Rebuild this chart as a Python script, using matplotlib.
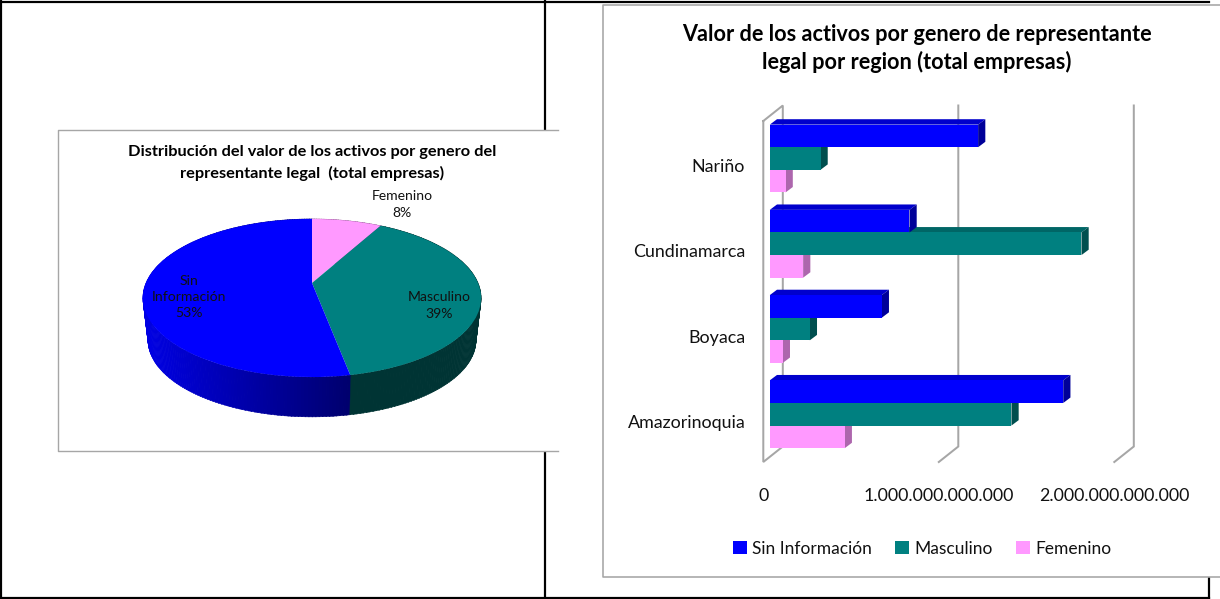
import numpy as np
import matplotlib
matplotlib.use("Agg")
import matplotlib.pyplot as plt
from matplotlib.transforms import Transform, ScaledTranslation
from matplotlib.patches import Rectangle, Polygon

# ---- data ----
pie_labels = ["Femenino", "Masculino", "Sin Información"]
pie_values = [8, 39, 53]
pie_colors = ["#FF99FF", "#008080", "#0000FF"]

categories = ["Amazorinoquia", "Boyaca", "Cundinamarca", "Nariño"]
sin_informacion = [1.672e12, 0.638e12, 0.796e12, 1.187e12]
masculino = [1.377e12, 0.228e12, 1.776e12, 0.289e12]
femenino = [0.427e12, 0.074e12, 0.190e12, 0.090e12]
x_ticks = [0, 1e12, 2e12]
x_tick_labels = ["0", "1.000.000.000.000", "2.000.000.000.000"]

title_left = "Distribución del valor de los activos por genero del\nrepresentante legal  (total empresas)"
title_right = "Valor de los activos por genero de representante\nlegal por region (total empresas)"

plt.rcParams["font.family"] = ["Lato", "DejaVu Sans"]
W, H = 1220, 599
fig = plt.figure(figsize=(W / 100, H / 100), dpi=100, facecolor="white")
PX = 0.72  # points per pixel

# ---- pixel-space page axes, with the pie in it ----
bg = fig.add_axes([0, 0, 1, 1])


class Perspective(Transform):
    """Tilts the unit-circle pie into page pixels."""
    input_dims = output_dims = 2
    is_separable = False
    has_inverse = False

    def __init__(self, cx, cy, b, a, k):
        super().__init__()
        self.p = (cx, cy, b, a, k)

    def transform_non_affine(self, xy):
        cx, cy, b, a, k = self.p
        xy = np.asarray(xy, float)
        d = 1 + k * xy[:, 1]
        return np.column_stack([cx + b * xy[:, 0] / d, cy - a * xy[:, 1] / d])


top_face = Perspective(312, 283, 166, 76.2, 0.19)
bottom_face = Perspective(312, 325.5, 161, 74, 0.19)

wedges, _ = bg.pie(pie_values, colors=pie_colors, startangle=90, counterclock=False,
                   wedgeprops=dict(linewidth=0))
bg.set_aspect("auto")
bg.set_xlim(0, W)
bg.set_ylim(H, 0)
bg.set_axis_off()

BLACK_LW = 2.2 * PX
GRAY = "#a6a6a6"
bg.plot([1, 1], [1, 598], color="black", lw=BLACK_LW, zorder=1)
bg.plot([1, 1209], [1.5, 1.5], color="black", lw=BLACK_LW, zorder=1)
bg.plot([1, 1209], [597.5, 597.5], color="black", lw=BLACK_LW, zorder=1)
bg.plot([545, 545], [1, 598], color="black", lw=BLACK_LW, zorder=1)
bg.plot([1209, 1209], [570, 598], color="black", lw=BLACK_LW, zorder=1)

bg.add_patch(Rectangle((58, 130), 500, 321, fc="white", ec="none", zorder=2))
bg.plot([558, 58, 58, 558], [130, 130, 451, 451], color=GRAY, lw=1.4 * PX, zorder=3)
bg.add_patch(Rectangle((603, 5), 617, 572, fc="white", ec="none", zorder=2))
bg.plot([1220, 603, 603, 1220], [5, 5, 577, 577], color=GRAY, lw=1.6 * PX, zorder=3)

# pie sides, from the angles the pie call produced
for t in np.arange(0, 360, 1.0):
    t0, t1 = np.radians(t), np.radians(t + 1.2)
    c = np.array([[np.cos(t0), np.sin(t0)], [np.cos(t1), np.sin(t1)]])
    a = top_face.transform_non_affine(c)
    b = bottom_face.transform_non_affine(c)
    mid = (t + 0.6 - 360) % 360
    col = None
    for w in wedges:
        lo, hi = w.theta1 % 360, w.theta2 % 360
        inside = lo <= mid < hi if lo < hi else (mid >= lo or mid < hi)
        if inside:
            col = w.get_facecolor()
    if col[2] > 0.9 and col[0] < 0.1:  # blue slice: shaded by position
        f = np.clip((a[:, 0].mean() - 143) / (353 - 143), 0, 1)
        col = (0, 0, (228 - 120 * f) / 255)
    elif col[0] < 0.1:
        col = (0, 52 / 255, 52 / 255)
    else:
        col = (0.6, 0.35, 0.6)
    bg.add_patch(Polygon(np.vstack([a, b[::-1]]), closed=True, fc=col, ec=col, lw=0.4, zorder=4))

for w in wedges:
    w.set_transform(top_face + bg.transData)
    w.set_zorder(5)

TXT = "#111111"
bg.text(312, 163, title_left, ha="center", va="center", fontsize=11.8, weight="bold",
        color="#000000", linespacing=1.5, zorder=6)
lab = dict(ha="center", va="center", fontsize=10.1, color=TXT, linespacing=1.42, zorder=6)
bg.text(402, 204.5, "Femenino\n8%", **lab)
bg.text(189, 297, "Sin\nInformación\n53%", **lab)
bg.text(439.5, 305.5, "Masculino\n39%", **lab)
bg.text(917, 48.5, title_right, ha="center", va="center", fontsize=15.6, weight="bold",
        color="#000000", linespacing=1.35, zorder=6)

# ---- 3D-look bar chart ----
L, R, T, B = 763.3, 1114.3, 121, 462
ax = fig.add_axes([L / W, 1 - B / H, (R - L) / W, (B - T) / H])
ax.patch.set_visible(False)
ax.set_xlim(0, 2e12)
ax.set_ylim(-0.5, 3.5)
for s in ax.spines.values():
    s.set_visible(False)

x_per_px = 2e12 / (R - L)
y_per_px = 4 / (B - T)
wall_dx, wall_dy = 19.5 * x_per_px, 15.5 * y_per_px
ymin, ymax = -0.5, 3.5

wall = dict(color=GRAY, lw=2.0 * PX, clip_on=False, zorder=1, solid_joinstyle="miter")
ax.plot([0, 0, wall_dx, wall_dx, 0], [ymax, ymin, ymin + wall_dy, ymax + wall_dy, ymax], **wall)
for v in x_ticks[1:]:
    ax.plot([v, v + wall_dx, v + wall_dx], [ymin, ymin + wall_dy, ymax + wall_dy], **wall)

bar_h = 22.6 * y_per_px
x0 = 6.5 * x_per_px
y0 = 0.06
bar_dx, bar_dy = 7.2 * x_per_px, 5.4 * y_per_px
y_pos = np.arange(len(categories))

series = [
    ("Femenino", femenino, -1, "#FF99FF", "#CC7ACC", "#AD66AD", 3),
    ("Masculino", masculino, 0, "#008080", "#006666", "#004F4F", 5),
    ("Sin Información", sin_informacion, 1, "#0000FF", "#0000CC", "#000099", 7),
]
handles = {}
for name, vals, off, face, top, side, z in series:
    ys = y_pos + y0 + off * bar_h
    handles[name] = ax.barh(ys, vals, height=bar_h, left=x0, color=face, linewidth=0,
                            label=name, zorder=z + 1, clip_on=False)
    for y, v in zip(ys, vals):
        xl, xr = x0, x0 + v
        yb, yt = y - bar_h / 2, y + bar_h / 2
        ax.add_patch(Polygon([(xl, yt), (xl + bar_dx, yt + bar_dy), (xr + bar_dx, yt + bar_dy), (xr, yt)],
                             closed=True, fc=top, ec="none", zorder=z, clip_on=False))
        ax.add_patch(Polygon([(xr, yb), (xr + bar_dx, yb + bar_dy), (xr + bar_dx, yt + bar_dy), (xr, yt)],
                             closed=True, fc=side, ec="none", zorder=z, clip_on=False))

ax.set_xticks(x_ticks, x_tick_labels)
ax.set_yticks(y_pos, categories)
ax.tick_params(axis="x", length=0, pad=18.5, labelsize=12.8, labelcolor=TXT)
ax.tick_params(axis="y", length=0, pad=13, labelsize=12.9, labelcolor=TXT)
for lbl in ax.get_yticklabels():
    lbl.set_transform(lbl.get_transform() + ScaledTranslation(0, -2 / 100, fig.dpi_scale_trans))

order = ["Sin Información", "Masculino", "Femenino"]
ax.legend([handles[n] for n in order], order, loc="center", ncols=3, frameon=False,
          bbox_to_anchor=(922 / W, 1 - 548.5 / H), bbox_transform=fig.transFigure,
          fontsize=12.5, handlelength=0.8, handleheight=0.8, handletextpad=0.3,
          columnspacing=1.35, labelcolor=TXT)

fig.savefig("out.png", dpi=100)
